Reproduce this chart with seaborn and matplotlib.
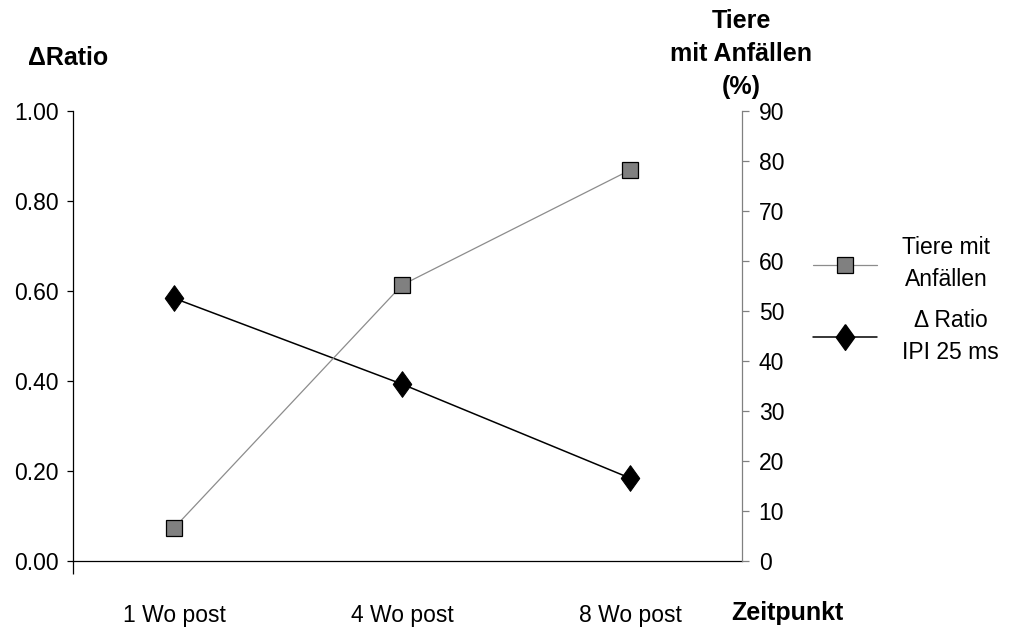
import matplotlib
matplotlib.use("Agg")
import matplotlib.pyplot as plt
import seaborn as sns
import numpy as np
from matplotlib.lines import Line2D
from matplotlib.ticker import FixedLocator

categories = ["1 Wo post", "4 Wo post", "8 Wo post"]
delta_ratio = [0.584, 0.393, 0.184]          # left axis (ΔRatio, IPI 25 ms)
tiere_pct = [6.6, 55.2, 78.2]                # right axis (% Tiere mit Anfällen)
left_ticks = [0.0, 0.2, 0.4, 0.6, 0.8, 1.0]
right_ticks = list(range(0, 100, 10))

sns.set_style("white")
plt.rcParams['font.family'] = ['Liberation Sans', 'DejaVu Sans']
plt.rcParams['text.color'] = 'black'
plt.rcParams['xtick.color'] = 'black'
plt.rcParams['ytick.color'] = 'black'
plt.rcParams['axes.labelcolor'] = 'black'

DIAMOND = [(0, 1), (0.72, 0), (0, -1), (-0.72, 0), (0, 1)]

fig = plt.figure(figsize=(10.16, 6.32), dpi=100)
ax = fig.add_axes([73/1016, 1-561/632, (742-73)/1016, (561-111)/632])
ax2 = ax.twinx()

x = np.arange(len(categories))
FS = 16.5

sns.lineplot(x=x, y=delta_ratio, ax=ax, color="black", linewidth=1.1,
             marker=DIAMOND, markersize=18.5, markerfacecolor="black",
             markeredgecolor="black", zorder=3)
sns.lineplot(x=x, y=tiere_pct, ax=ax2, color="#8c8c8c", linewidth=0.9,
             marker="s", markersize=11, markerfacecolor="#808080",
             markeredgecolor="black", markeredgewidth=0.9, zorder=3)

xmin, xmax = -0.443, 2.49
ax.set_xlim(xmin, xmax)
ax.set_ylim(0, 1.0)
ax2.set_ylim(0, 90)

ax.set_yticks(left_ticks)
ax.set_yticklabels([f"{v:.2f}" for v in left_ticks], fontsize=FS)
ax2.set_yticks(right_ticks)
ax2.set_yticklabels([str(v) for v in right_ticks], fontsize=FS)
ax.set_xticks(x)
ax.set_xticklabels(categories, fontsize=FS)
ax.xaxis.set_minor_locator(FixedLocator([xmin]))

ax.tick_params(axis="y", which="major", direction="out", length=4.5, width=0.9,
               color="black", pad=6, left=True)
ax.tick_params(axis="x", which="major", length=0, pad=31, bottom=True)
ax.tick_params(axis="x", which="minor", direction="out", length=9.5, width=0.9,
               color="black", bottom=True)
ax2.tick_params(axis="y", direction="out", length=5, width=0.9, color="#808080",
                pad=7, right=True)

for a in (ax, ax2):
    a.spines["top"].set_visible(False)
    a.set_xlabel("")
    a.set_ylabel("")
    a.grid(False)
ax.spines["right"].set_visible(False)
ax2.spines["left"].set_visible(False)
ax2.spines["bottom"].set_visible(False)
ax.spines["left"].set_color("black")
ax.spines["left"].set_linewidth(0.9)
ax.spines["bottom"].set_color("black")
ax.spines["bottom"].set_linewidth(0.9)
ax2.spines["right"].set_color("#808080")
ax2.spines["right"].set_linewidth(0.9)

# axis titles
fig.text(68/1016, 1-58/632, "ΔRatio", fontsize=18, fontweight="bold",
         ha="center", va="center")
fig.text(741/1016, 1-54/632, "Tiere\nmit Anfällen\n(%)", fontsize=18,
         fontweight="bold", ha="center", va="center", linespacing=1.45)
fig.text(787/1016, 1-613/632, "Zeitpunkt", fontsize=18, fontweight="bold",
         ha="center", va="center")

# legend
handles = [
    Line2D([], [], color="#8c8c8c", linewidth=0.9, marker="s", markersize=11,
           markerfacecolor="#808080", markeredgecolor="black", markeredgewidth=0.9),
    Line2D([], [], color="black", linewidth=1.1, marker=DIAMOND, markersize=18.5,
           markerfacecolor="black", markeredgecolor="black"),
]
labels = ["Tiere mit\nAnfällen", "Δ Ratio\nIPI 25 ms"]
leg = fig.legend(handles, labels, loc="center left", bbox_to_anchor=(813/1016, 1-300/632),
                 frameon=False, fontsize=FS, handlelength=2.8, handletextpad=1.1,
                 borderpad=0, borderaxespad=0, labelspacing=0.75)
for t in leg.get_texts():
    t.set_multialignment("center")
    t.set_linespacing(1.5)

fig.savefig("out.png", dpi=100)
